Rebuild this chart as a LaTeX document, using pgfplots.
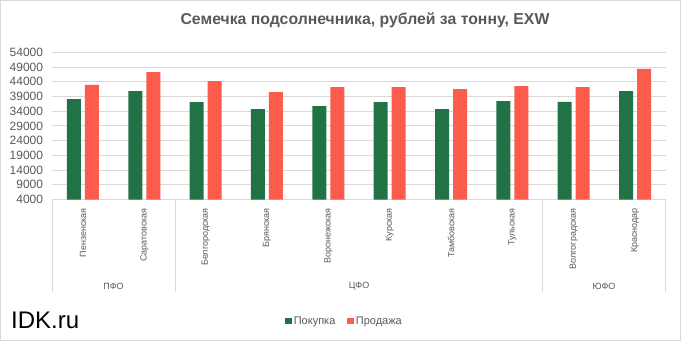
\documentclass[border=0pt]{standalone}
\usepackage{fontspec}
\setmainfont{Liberation Sans}
\usepackage{pgfplots}
\pgfplotsset{compat=1.18}
\definecolor{txtgray}{HTML}{595959}
\definecolor{gridgray}{HTML}{D9D9D9}
\definecolor{buygreen}{HTML}{217346}
\definecolor{sellred}{HTML}{FC5C4C}
\begin{document}
\begin{tikzpicture}[x=1bp,y=1bp]
\useasboundingbox (0,0) rectangle (681,341);
\draw[gridgray,line width=1bp] (0.5,0.5) rectangle (680.5,340.5);
\begin{axis}[
  at={(52.3bp,141.5bp)}, anchor=south west,
  scale only axis, width=613.4bp, height=147.2bp,
  ymin=4000, ymax=54000,
  ytick={4000,9000,14000,19000,24000,29000,34000,39000,44000,49000,54000},
  xmin=-0.5, xmax=9.5,
  xtick={0,...,9},
  xticklabels={Пензенская,Саратовская,Белгородская,Брянская,Воронежская,Курская,Тамбовская,Тульская,Волгоградская,Краснодар},
  /pgf/number format/assume math mode=true,
  scaled y ticks=false,
  yticklabel={\pgfmathprintnumber[fixed,1000 sep={}]{\tick}},
  major tick length=0pt,
  tick style={draw=none},
  axis lines*=left,
  axis line style={-},
  x axis line style={draw=gridgray,line width=1bp},
  y axis line style={draw=none},
  ymajorgrids,
  grid style={gridgray,line width=1bp},
  yticklabel style={font=\fontsize{12bp}{14bp}\selectfont, text=txtgray, inner sep=0pt, anchor=east, xshift=-9bp},
  xticklabel style={font=\fontsize{9bp}{11bp}\selectfont, text=txtgray, yshift=-8.5bp, rotate=90, anchor=east, inner sep=0pt},
  ybar=4bp, bar width=14bp,
  clip=false,
  legend columns=2,
  legend style={draw=none, fill=none, at={(0.4764,-0.8254)}, anchor=center, font=\fontsize{11bp}{13bp}\selectfont, text=txtgray,
    /tikz/every even column/.append style={column sep=10bp}, inner sep=0pt},
  legend cell align=left,
  legend image code/.code={\fill[#1] (0bp,-3.25bp) rectangle (6.5bp,3.25bp);},
]
\addplot[fill=buygreen, draw=none] coordinates {
(0,38100) (1,40800) (2,37100) (3,34700) (4,35700) (5,37100) (6,34700) (7,37400) (8,37200) (9,40800)};
\addplot[fill=sellred, draw=none] coordinates {
(0,42900) (1,47300) (2,44200) (3,40500) (4,42200) (5,42200) (6,41500) (7,42500) (8,42200) (9,48400)};
\legend{Покупка,Продажа}
\end{axis}
\foreach \xx in {52.3,175.7,542.7,665.7} \draw[gridgray,line width=1bp] (\xx,141.5) -- (\xx,49);
\node[font=\fontsize{9bp}{11bp}\selectfont, text=txtgray] at (113.5,54.3) {ПФО};
\node[font=\fontsize{9bp}{11bp}\selectfont, text=txtgray] at (359,54.3) {ЦФО};
\node[font=\fontsize{9bp}{11bp}\selectfont, text=txtgray] at (604,54.3) {ЮФО};
\node[font=\bfseries\fontsize{15.8bp}{18bp}\selectfont, text=txtgray] at (365,321) {Семечка подсолнечника, рублей за тонну, EXW};
\node[font=\fontsize{24bp}{28bp}\selectfont, anchor=base west, inner sep=0pt] at (11,12.7) {IDK.ru};
\end{tikzpicture}
\end{document}
